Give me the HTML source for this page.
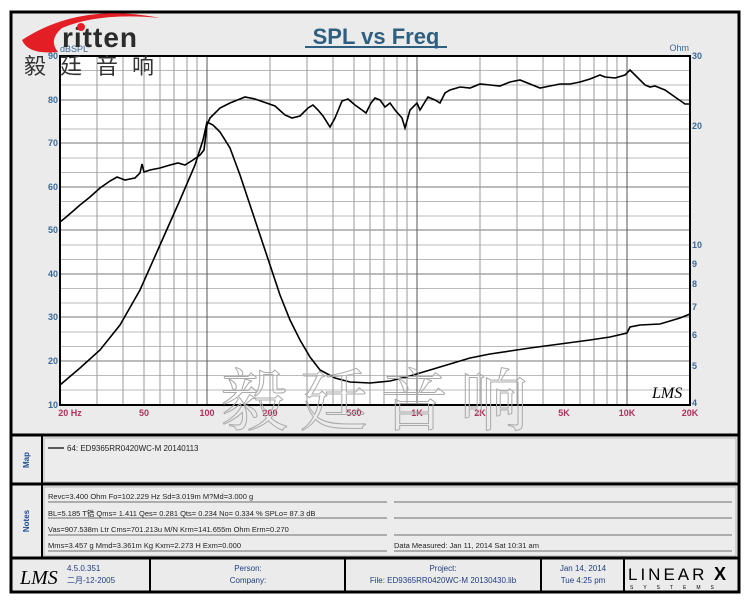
<!DOCTYPE html>
<html><head><meta charset="utf-8"><style>
body{margin:0;width:750px;height:600px;background:#fff;overflow:hidden;font-family:"Liberation Sans","Noto Sans CJK SC",sans-serif}
</style></head><body>
<svg width="750" height="600" viewBox="0 0 750 600" xmlns="http://www.w3.org/2000/svg" font-family="Liberation Sans, Noto Sans CJK SC, sans-serif">
<rect x="0" y="0" width="750" height="600" fill="#fff"/>
<rect x="11" y="12" width="728" height="580" fill="#ebebeb" stroke="#000" stroke-width="3"/>
<line x1="11" y1="435" x2="739" y2="435" stroke="#000" stroke-width="3"/>
<line x1="11" y1="484" x2="739" y2="484" stroke="#000" stroke-width="3"/>
<line x1="11" y1="558" x2="739" y2="558" stroke="#000" stroke-width="3"/>
<line x1="42" y1="435" x2="42" y2="558" stroke="#000" stroke-width="2"/>
<rect x="44" y="438" width="692" height="44" fill="#ececec" stroke="#888" stroke-width="0.5"/>
<rect x="44" y="487" width="692" height="69" fill="#ececec" stroke="#888" stroke-width="0.5"/>
<line x1="150" y1="558" x2="150" y2="592" stroke="#000" stroke-width="2"/>
<line x1="345" y1="558" x2="345" y2="592" stroke="#000" stroke-width="2"/>
<line x1="541" y1="558" x2="541" y2="592" stroke="#000" stroke-width="2"/>
<line x1="624" y1="558" x2="624" y2="592" stroke="#000" stroke-width="2"/>

<!-- title -->
<text x="376" y="44" font-size="22" font-weight="bold" fill="#2f5f80" text-anchor="middle">SPL vs Freq</text>
<line x1="305" y1="47" x2="447" y2="47" stroke="#2f5f80" stroke-width="2"/>

<!-- plot -->
<rect x="60" y="56" width="630" height="349" fill="#fff"/>
<g stroke="#bbb" stroke-width="1">
<line x1="60" y1="70.5" x2="690" y2="70.5"/><line x1="60" y1="85" x2="690" y2="85"/>
<line x1="60" y1="114.5" x2="690" y2="114.5"/><line x1="60" y1="129" x2="690" y2="129"/>
<line x1="60" y1="158" x2="690" y2="158"/><line x1="60" y1="172.5" x2="690" y2="172.5"/>
<line x1="60" y1="201.5" x2="690" y2="201.5"/><line x1="60" y1="216" x2="690" y2="216"/>
<line x1="60" y1="245" x2="690" y2="245"/><line x1="60" y1="259.5" x2="690" y2="259.5"/>
<line x1="60" y1="288.5" x2="690" y2="288.5"/><line x1="60" y1="303" x2="690" y2="303"/>
<line x1="60" y1="332" x2="690" y2="332"/><line x1="60" y1="346.5" x2="690" y2="346.5"/>
<line x1="60" y1="375.5" x2="690" y2="375.5"/><line x1="60" y1="390" x2="690" y2="390"/>
</g>
<g stroke="#777" stroke-width="1">
<line x1="60" y1="100" x2="690" y2="100"/><line x1="60" y1="143" x2="690" y2="143"/>
<line x1="60" y1="187" x2="690" y2="187"/><line x1="60" y1="230" x2="690" y2="230"/>
<line x1="60" y1="274" x2="690" y2="274"/><line x1="60" y1="317" x2="690" y2="317"/>
<line x1="60" y1="361" x2="690" y2="361"/>
</g>
<g stroke="#999" stroke-width="1">
<line x1="97" y1="56" x2="97" y2="405"/><line x1="123" y1="56" x2="123" y2="405"/><line x1="144" y1="56" x2="144" y2="405"/><line x1="160" y1="56" x2="160" y2="405"/><line x1="174" y1="56" x2="174" y2="405"/><line x1="187" y1="56" x2="187" y2="405"/><line x1="197" y1="56" x2="197" y2="405"/>
<line x1="270" y1="56" x2="270" y2="405"/><line x1="307" y1="56" x2="307" y2="405"/><line x1="333" y1="56" x2="333" y2="405"/><line x1="354" y1="56" x2="354" y2="405"/><line x1="370" y1="56" x2="370" y2="405"/><line x1="384" y1="56" x2="384" y2="405"/><line x1="397" y1="56" x2="397" y2="405"/><line x1="407" y1="56" x2="407" y2="405"/>
<line x1="480" y1="56" x2="480" y2="405"/><line x1="517" y1="56" x2="517" y2="405"/><line x1="543" y1="56" x2="543" y2="405"/><line x1="564" y1="56" x2="564" y2="405"/><line x1="580" y1="56" x2="580" y2="405"/><line x1="594" y1="56" x2="594" y2="405"/><line x1="607" y1="56" x2="607" y2="405"/><line x1="617" y1="56" x2="617" y2="405"/>
</g>
<g stroke="#555" stroke-width="1">
<line x1="207" y1="56" x2="207" y2="405"/><line x1="417" y1="56" x2="417" y2="405"/><line x1="627" y1="56" x2="627" y2="405"/>
</g>
<rect x="60" y="56" width="630" height="349" fill="none" stroke="#000" stroke-width="2"/>

<!-- curves -->
<polyline fill="none" stroke="#000" stroke-width="1.6" points="60,222 65,218 72,212 80,205 90,197 100,188 110,181 117,177 125,180 135,178 140,173 142,164 144,172 150,170 160,168 170,165 178,163 185,165 193,160 200,155 204,150 207,125 210,118 220,108 230,103 245,97 255,99 275,106 285,115 292,118 300,116 308,108 313,105 318,110 323,116 330,127 335,118 342,101 348,99 355,105 362,110 366,113 371,103 375,98 380,100 385,107 390,103 395,110 402,118 405,128 410,110 417,103 420,110 428,97 435,100 440,103 445,93 450,90 460,87 470,88 480,84 490,85 500,86 510,82 520,80 530,84 540,88 550,86 560,84 570,84 580,82 590,79 600,75 605,77 615,78 625,75 630,70 635,75 645,85 650,87 655,86 660,88 665,90 675,97 685,104 690,104"/>
<polyline fill="none" stroke="#000" stroke-width="1.6" points="60,385 80,368 100,350 120,325 140,290 160,245 180,200 195,165 203,140 207,122 213,125 220,132 230,148 240,175 250,205 260,235 270,265 280,295 290,320 300,340 310,357 320,370 335,378 350,382 370,383 390,381 410,376 430,370 450,364 470,358 490,354 510,351 530,348 560,344 590,340 610,337 627,333 630,327 640,325 660,324 680,318 690,314"/>
<text x="652" y="398" font-size="16" font-style="italic" fill="#000" font-family="Liberation Serif, serif">LMS</text>

<!-- axes labels -->
<g font-size="9" font-weight="bold" fill="#3a6a99" text-anchor="end">
<text x="58" y="59">90</text><text x="58" y="103">80</text><text x="58" y="146">70</text><text x="58" y="190">60</text><text x="58" y="233">50</text><text x="58" y="277">40</text><text x="58" y="320">30</text><text x="58" y="364">20</text><text x="58" y="408">10</text>
</g>
<text x="60" y="52" font-size="9" fill="#3a6a99">dBSPL</text>
<g font-size="9" font-weight="bold" fill="#3a6a99">
<text x="692" y="59">30</text><text x="692" y="129">20</text><text x="692" y="248">10</text><text x="692" y="267">9</text><text x="692" y="287">8</text><text x="692" y="310">7</text><text x="692" y="338">6</text><text x="692" y="369">5</text><text x="692" y="406">4</text>
</g>
<text x="689" y="51" font-size="9" fill="#3a6a99" text-anchor="end">Ohm</text>
<g font-size="9" font-weight="bold" fill="#b0305a" text-anchor="middle">
<text x="70" y="416">20 Hz</text><text x="144" y="416">50</text><text x="207" y="416">100</text><text x="270" y="416">200</text><text x="354" y="416">500</text><text x="417" y="416">1K</text><text x="480" y="416">2K</text><text x="564" y="416">5K</text><text x="627" y="416">10K</text><text x="690" y="416">20K</text>
</g>

<!-- logo (drawn over plot) -->
<path d="M22 40 Q80 2 160 18 Q100 12 62 28 Q48 40 58 52 Q28 55 22 40Z" fill="#e31e24"/>
<text x="62" y="47" font-size="28" font-weight="bold" fill="#2b2b2b" letter-spacing="1">ritten</text>
<circle cx="81" cy="27" r="4" fill="#e31e24"/>
<text x="24" y="74" font-size="22" fill="#333" letter-spacing="14" font-family="Noto Sans CJK SC, sans-serif">毅廷音响</text>

<!-- watermark -->
<text x="380" y="425" font-size="68" fill="none" stroke="#aaa" stroke-width="1" text-anchor="middle" letter-spacing="12" font-family="Noto Serif CJK SC, serif">毅廷音响</text>

<!-- map -->
<text x="29" y="460" font-size="8" font-weight="bold" fill="#1f4f8f" transform="rotate(-90 29 460)" text-anchor="middle">Map</text>
<line x1="48" y1="448" x2="64" y2="448" stroke="#000" stroke-width="1.2"/>
<text x="67" y="451" font-size="8" fill="#222">64: ED9365RR0420WC-M     20140113</text>

<!-- notes -->
<text x="29" y="521" font-size="8" font-weight="bold" fill="#1f4f8f" transform="rotate(-90 29 521)" text-anchor="middle">Notes</text>
<g font-size="7.5" fill="#222">
<text x="48" y="499">Revc=3.400 Ohm  Fo=102.229 Hz  Sd=3.019m M?Md=3.000 g</text>
<text x="48" y="516">BL=5.185 T锆  Qms= 1.411  Qes= 0.281  Qts= 0.234  No= 0.334 %  SPLo= 87.3 dB</text>
<text x="48" y="532">Vas=907.538m Ltr  Cms=701.213u M/N  Krm=141.655m Ohm  Erm=0.270</text>
<text x="48" y="548">Mms=3.457 g  Mmd=3.361m Kg  Kxm=2.273 H  Exm=0.000</text>
<text x="394" y="548">Data Measured: Jan 11, 2014  Sat 10:31 am</text>
</g>
<g stroke="#444" stroke-width="0.8">
<line x1="48" y1="502" x2="387" y2="502"/><line x1="394" y1="502" x2="732" y2="502"/>
<line x1="48" y1="518" x2="387" y2="518"/><line x1="394" y1="518" x2="732" y2="518"/>
<line x1="48" y1="535" x2="387" y2="535"/><line x1="394" y1="535" x2="732" y2="535"/>
<line x1="48" y1="551" x2="387" y2="551"/><line x1="394" y1="551" x2="732" y2="551"/>
</g>

<!-- footer -->
<text x="20" y="584" font-size="20" font-style="italic" fill="#000" font-family="Liberation Serif, serif">LMS</text>
<g font-size="8" fill="#1f3f7f">
<text x="67" y="571">4.5.0.351</text><text x="67" y="583">二月-12-2005</text>
<text x="248" y="571" text-anchor="middle">Person:</text><text x="248" y="583" text-anchor="middle">Company:</text>
<text x="443" y="571" text-anchor="middle">Project:</text><text x="443" y="583" text-anchor="middle">File: ED9365RR0420WC-M  20130430.lib</text>
<text x="583" y="571" text-anchor="middle">Jan 14, 2014</text><text x="583" y="583" text-anchor="middle">Tue  4:25 pm</text>
</g>
<text x="628" y="580" font-size="17" fill="#000" letter-spacing="3">LINEAR</text>
<text x="714" y="580" font-size="18" font-weight="bold" fill="#000">X</text>
<text x="630" y="589" font-size="5" fill="#000" letter-spacing="10">SYSTEMS</text>
</svg>
</body></html>
